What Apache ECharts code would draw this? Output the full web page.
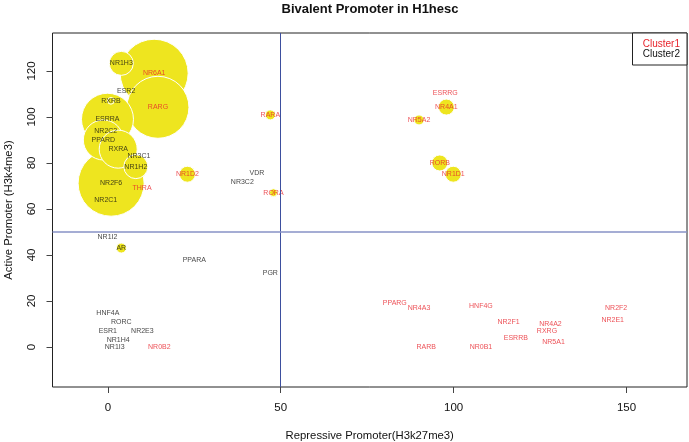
<!DOCTYPE html>
<html>
<head>
<meta charset="utf-8">
<script src="https://cdn.jsdelivr.net/npm/echarts@6/dist/echarts.min.js"></script>
<style>
html,body{margin:0;padding:0;background:#fff;}
#chart{width:689px;height:442px;}
</style>
</head>
<body>
<div id="chart"></div>
<script>
// ---- data ----
const genes = ['NR6A1','NR1H3','RARG','ESR2','ESRRA','RXRB','NR2F6','PPARD','NR2C2','RXRA','NR1H2','NR3C1','THRA','NR2C1',
  'NR1D2','RARA','VDR','NR3C2','RORA','NR1I2','AR','PPARA','PGR','HNF4A','RORC','ESR1','NR2E3','NR1H4','NR1I3','NR0B2',
  'ESRRG','NR4A1','NR5A2','RORB','NR1D1','PPARG','NR4A3','HNF4G','NR2F1','NR4A2','RXRG','ESRRB','NR5A1','RARB','NR0B1','NR2F2','NR2E1'];
const repressive = [13.4,3.9,14.5,5.3,-0.1,0.9,0.95,-1.3,-0.6,3,8.1,9,9.9,-0.6,
  23,47,43.1,38.9,47.9,-0.1,3.9,25,47,0,3.9,0,10,3,2,14.9,
  97.6,97.9,90,96,99.9,83,90,107.9,115.9,128,127,118,128.9,92.1,107.9,147,146];
const active = [119,123.3,104.2,111.3,99,107,71.2,90,93.9,86,78.4,83,69,63.9,
  75.1,100.9,75.8,71.9,67.1,48,43,38,32,14.9,11,7,7,3,0.1,0.1,
  110.4,104.3,98.7,80,75.1,19,17.1,18,11,10,7.1,3.9,2,0,0,17,11.9];
const bubble = [102,36,93,0,78,10,99,60,0,57,36,0,0,0,
  24,15,0,0,12,0,15,0,0,0,0,0,0,0,0,0,
  0,24,15,24,24,0,0,0,0,0,0,0,0,0,0,0,0];
const cluster = [1,2,1,2,2,2,2,2,2,2,2,2,1,2,
  1,1,2,2,1,2,2,2,2,2,2,2,2,2,2,1,
  1,1,1,1,1,1,1,1,1,1,1,1,1,1,1,1,1];
const xTicks = [0,50,100,150];
const yTicks = [0,20,40,60,80,100,120];
const refX = 50, refY = 50;
const clusterNames = ['Cluster1','Cluster2'];

// ---- build ----
const RED = '#e8242c';
const bubbleData = [];
genes.forEach((g,i)=>{ if(bubble[i]>0) bubbleData.push([repressive[i],active[i],bubble[i],g]); });
const labelData = genes.map((g,i)=>({
  value:[repressive[i],active[i]], name:g,
  label:{color: cluster[i]===1 ? RED : '#111'}
}));

const chart = echarts.init(document.getElementById('chart'), null, {renderer:'canvas'});
const FONT = '"Liberation Sans", Arial, Helvetica, sans-serif';
chart.setOption({
  animation:false,
  backgroundColor:'#fff',
  title:{text:'Bivalent Promoter in H1hesc', left:370, top:3, padding:0, textAlign:'center',
    textStyle:{fontSize:13, fontWeight:'bold', color:'#111', fontFamily:FONT}},
  grid:{left:52.5, right:2, top:33, bottom:55, show:true, borderColor:'#222', borderWidth:1, backgroundColor:'transparent', outerBoundsMode:'none', containLabel:false},
  xAxis:{type:'value', min:-16, max:167.5,
    axisLine:{show:false, onZero:false}, splitLine:{show:false},
    axisTick:{show:true, customValues:xTicks, length:6, lineStyle:{color:'#444'}},
    axisLabel:{customValues:xTicks, margin:15, fontSize:11.5, color:'#111', fontFamily:FONT},
    name:'Repressive Promoter(H3k27me3)', nameLocation:'middle', nameGap:43,
    nameTextStyle:{fontSize:11.3, color:'#111', fontFamily:FONT}},
  yAxis:{type:'value', min:-17.4, max:136.5,
    axisLine:{show:false, onZero:false}, splitLine:{show:false},
    axisTick:{show:true, customValues:yTicks, length:6, lineStyle:{color:'#444'}},
    axisLabel:{customValues:yTicks, rotate:90, margin:15, fontSize:11.5, color:'#111', fontFamily:FONT},
    name:'Active Promoter (H3k4me3)', nameLocation:'middle', nameGap:38, nameRotate:90,
    nameTextStyle:{fontSize:11.3, color:'#111', fontFamily:FONT}},
  series:[
    {type:'scatter', silent:true, data:bubbleData,
      symbolSize:(v)=>v[2]*2/3,
      itemStyle:{color:'#eee51f', borderColor:'#fff', borderWidth:1, opacity:1},
      markLine:{silent:true, symbol:'none', label:{show:false},
        data:[{xAxis:refX, lineStyle:{color:'#3d4f9e', width:1, type:'solid'}},
              {yAxis:refY, lineStyle:{color:'#8792c6', width:1.6, type:'solid'}}]}
    },
    {type:'scatter', silent:true, data:labelData, symbolSize:1,
      itemStyle:{color:'rgba(0,0,0,0)'},
      label:{show:true, position:'inside', formatter:'{b}', fontSize:7, fontFamily:FONT}
    }
  ],
  graphic:[
    {type:'rect', shape:{x:632.5, y:33, width:54.5, height:32}, style:{fill:'#fff', stroke:'#222', lineWidth:1}, z:100},
    {type:'text', x:680, y:44, style:{text:clusterNames[0], fill:RED, font:'10px '+FONT, textAlign:'right', textVerticalAlign:'middle'}, z:101},
    {type:'text', x:680, y:54, style:{text:clusterNames[1], fill:'#111', font:'10px '+FONT, textAlign:'right', textVerticalAlign:'middle'}, z:101}
  ]
});
</script>
</body>
</html>
